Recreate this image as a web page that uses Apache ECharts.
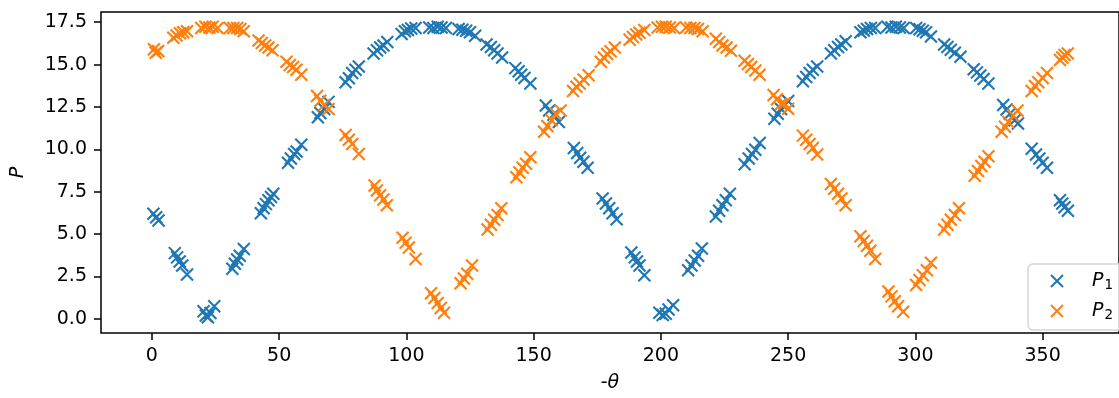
<!DOCTYPE html>
<html>
<head>
<meta charset="utf-8">
<script src="https://cdn.jsdelivr.net/npm/echarts@6/dist/echarts.min.js"></script>
<style>
  html, body { margin: 0; padding: 0; background: #fff; }
  #chart { width: 1119px; height: 398px; }
</style>
</head>
<body>
<div id="chart"></div>
<script>
// Measured polarised intensities P1 and P2 against the (negative) analyser angle
const p1Theta = [
  0.6, 1.7, 2.6,
  9.0, 9.9, 10.9, 11.9, 13.8,
  20.3, 21.2, 22.0, 23.0, 24.5,
  31.6, 32.6, 33.5, 34.5, 36.1,
  42.8, 43.9, 44.8, 45.8, 46.8, 47.7,
  53.5, 54.6, 55.9, 56.9, 58.7,
  65.2, 66.2, 67.7, 69.4,
  76.1, 77.4, 78.7, 80.0, 81.3,
  87.1, 88.4, 89.7, 91.0, 92.5,
  98.1, 99.4, 100.6, 101.9, 103.6,
  109.0, 110.6, 112.3, 113.8, 115.5,
  120.5, 122.0, 123.5, 125.0, 127.0,
  131.5, 133.2, 134.5, 135.8, 137.6,
  142.8, 144.1, 145.1, 146.4, 148.7,
  154.8, 156.1, 157.8, 159.9,
  165.8, 167.1, 168.3, 169.6, 171.2,
  177.1, 178.4, 179.7, 181.0, 182.6,
  188.4, 189.7, 190.6, 191.6, 193.5,
  199.4, 200.7, 201.9, 203.0, 204.8,
  210.7, 212.0, 213.3, 214.6, 216.1,
  221.6, 222.9, 224.2, 225.5, 227.1,
  232.9, 234.5, 235.8, 237.1, 238.8,
  244.6, 245.9, 247.2, 248.5, 250.0,
  255.8, 257.1, 258.4, 259.7, 261.4,
  266.8, 268.1, 269.6, 270.9, 272.6,
  278.4, 279.7, 281.0, 282.5, 284.2,
  289.0, 290.6, 292.3, 293.9, 295.4,
  300.3, 301.6, 302.9, 304.2, 306.1,
  311.3, 312.6, 313.9, 315.5, 317.7,
  322.9, 324.2, 325.5, 326.8, 328.7,
  334.5, 335.8, 337.1, 339.0, 340.3,
  345.7, 347.4, 348.7, 350.0, 351.7,
  356.8, 357.7, 358.6, 359.9
];
const p1Values = [
  6.2, 6.0, 5.8,
  3.88, 3.63, 3.38, 3.15, 2.62,
  0.45, 0.2, 0.1, 0.35, 0.75,
  2.96, 3.25, 3.5, 3.73, 4.12,
  6.23, 6.52, 6.77, 7.0, 7.19, 7.38,
  9.21, 9.46, 9.73, 9.88, 10.27,
  11.9, 12.15, 12.38, 12.8,
  13.96, 14.2, 14.5, 14.7, 14.88,
  15.65, 15.85, 16.0, 16.13, 16.33,
  16.8, 16.96, 17.04, 17.13, 17.15,
  17.19, 17.15, 17.23, 17.19, 17.15,
  17.1, 17.05, 17.0, 16.9, 16.7,
  16.19, 16.04, 15.85, 15.65, 15.42,
  14.79, 14.6, 14.4, 14.21, 13.88,
  12.58, 12.29, 12.04, 11.62,
  10.08, 9.79, 9.5, 9.27, 8.92,
  7.1, 6.81, 6.52, 6.23, 5.88,
  3.92, 3.63, 3.38, 3.15, 2.58,
  0.37, 0.23, 0.31, 0.56, 0.81,
  2.87, 3.15, 3.44, 3.73, 4.15,
  6.04, 6.38, 6.71, 7.0, 7.38,
  9.12, 9.46, 9.73, 9.98, 10.37,
  11.81, 12.1, 12.38, 12.6, 12.85,
  14.02, 14.27, 14.5, 14.69, 14.88,
  15.65, 15.85, 16.04, 16.19, 16.38,
  16.9, 17.0, 17.1, 17.15, 17.15,
  17.23, 17.19, 17.23, 17.19, 17.15,
  17.15, 17.08, 17.0, 16.9, 16.65,
  16.19, 16.04, 15.88, 15.69, 15.46,
  14.73, 14.54, 14.35, 14.15, 13.88,
  12.62, 12.35, 12.1, 11.71, 11.52,
  10.04, 9.69, 9.46, 9.21, 8.92,
  7.0, 6.81, 6.58, 6.38
];
const p2Theta = [
  0.8, 1.5, 2.5,
  8.4, 9.7, 11.0, 12.3, 13.8,
  19.4, 21.0, 22.6, 23.9, 25.8,
  30.6, 32.0, 33.5, 34.8, 36.1,
  41.9, 43.2, 44.5, 45.8, 47.4,
  52.9, 54.2, 55.5, 56.8, 58.7,
  64.9, 66.2, 67.7, 69.4,
  76.1, 77.4, 78.7, 81.3,
  87.5, 88.4, 89.7, 91.0, 92.3,
  98.5, 99.7, 101.0, 103.6,
  109.7, 111.0, 112.3, 113.5, 114.8,
  121.3, 122.6, 123.9, 125.8,
  131.9, 133.2, 134.5, 135.8, 137.3,
  143.2, 144.4, 145.7, 147.0, 148.7,
  154.1, 155.4, 157.0, 158.7, 160.6,
  165.5, 166.8, 168.1, 169.6, 171.6,
  176.4, 177.6, 178.9, 180.2, 181.9,
  187.7, 189.0, 190.3, 191.6, 193.5,
  198.7, 200.4, 201.9, 203.5, 205.2,
  209.9, 211.6, 213.2, 214.6, 216.4,
  221.6, 222.9, 224.2, 225.8, 227.5,
  232.9, 234.2, 235.5, 237.1, 238.8,
  244.3, 245.6, 247.2, 248.5, 250.0,
  255.8, 257.1, 258.4, 259.7, 261.4,
  266.8, 268.1, 269.6, 270.9, 272.6,
  278.4, 279.7, 281.0, 282.3, 284.2,
  289.4, 290.6, 291.9, 293.2, 295.2,
  300.3, 301.6, 302.9, 304.5, 306.1,
  311.3, 312.6, 313.9, 315.5, 317.1,
  323.3, 324.6, 325.9, 327.2, 328.7,
  333.9, 335.2, 336.5, 338.4, 340.1,
  345.7, 347.0, 348.3, 350.0, 351.7,
  356.8, 357.7, 358.6, 359.9
];
const p2Values = [
  15.9, 15.7, 15.8,
  16.58, 16.71, 16.85, 16.9, 16.96,
  17.15, 17.23, 17.19, 17.23, 17.15,
  17.15, 17.15, 17.15, 17.1, 16.96,
  16.42, 16.27, 16.13, 16.0, 15.85,
  15.17, 14.98, 14.85, 14.69, 14.4,
  13.15, 12.87, 12.62, 12.38,
  10.85, 10.56, 10.31, 9.73,
  7.87, 7.58, 7.29, 7.04, 6.71,
  4.79, 4.5, 4.21, 3.54,
  1.52, 1.23, 0.94, 0.65, 0.37,
  2.1, 2.38, 2.67, 3.15,
  5.27, 5.56, 5.85, 6.13, 6.52,
  8.35, 8.63, 8.92, 9.15, 9.54,
  11.04, 11.38, 11.71, 12.1, 12.29,
  13.44, 13.69, 13.88, 14.12, 14.37,
  15.17, 15.42, 15.62, 15.79, 16.0,
  16.46, 16.62, 16.77, 16.88, 17.04,
  17.19, 17.23, 17.23, 17.19, 17.15,
  17.19, 17.15, 17.15, 17.1, 16.96,
  16.52, 16.33, 16.13, 16.0, 15.81,
  15.23, 15.04, 14.85, 14.65, 14.4,
  13.2, 12.96, 12.67, 12.7, 12.4,
  10.81, 10.56, 10.31, 10.08, 9.69,
  7.96, 7.67, 7.38, 7.1, 6.71,
  4.88, 4.6, 4.31, 4.02, 3.54,
  1.62, 1.33, 1.04, 0.75, 0.42,
  2.0, 2.29, 2.58, 2.87, 3.31,
  5.27, 5.56, 5.85, 6.13, 6.52,
  8.44, 8.73, 9.02, 9.27, 9.6,
  11.04, 11.33, 11.62, 12.0, 12.29,
  13.44, 13.73, 13.96, 14.21, 14.5,
  15.27, 15.42, 15.56, 15.65
];

const xTicks = [0, 50, 100, 150, 200, 250, 300, 350];
const yTicks = [0, 2.5, 5, 7.5, 10, 12.5, 15, 17.5];

const BLUE = '#1f77b4';
const ORANGE = '#ff7f0e';
const FONT = 'DejaVu Sans';
const FS = 19;
const CROSS = 'path://M0,0L10,10M10,0L0,10';

function pairs(xs, ys) {
  return xs.map((x, i) => [x, ys[i]]);
}

function scatter(name, color, data) {
  return {
    name: name,
    type: 'scatter',
    data: data,
    symbol: CROSS,
    symbolSize: 12,
    itemStyle: { color: color, borderColor: color, borderWidth: 2.1, opacity: 1 },
    emphasis: { disabled: true }
  };
}

const tickStyle = { color: '#000', width: 1.5 };

const chart = echarts.init(document.getElementById('chart'), null, { renderer: 'canvas' });

chart.setOption({
  animation: false,
  backgroundColor: '#ffffff',
  textStyle: { fontFamily: FONT },
  grid: {
    left: 101, top: 12, bottom: 58, right: -14,
    show: true, borderColor: '#000', borderWidth: 1.5, backgroundColor: 'transparent'
  },
  legend: {
    left: 1028, top: 264,
    orient: 'vertical',
    padding: [6, 24, 8, 22],
    itemWidth: 12, itemHeight: 12, itemGap: 8,
    backgroundColor: 'rgba(255,255,255,0.8)',
    borderColor: '#d6d6d6', borderWidth: 1.5, borderRadius: 5,
    data: ['P1', 'P2'],
    formatter: function (n) {
      return '{i|P}{s|' + n.slice(1) + '}';
    },
    textStyle: {
      color: '#000',
      rich: {
        i: { fontFamily: FONT, fontStyle: 'italic', fontSize: FS, padding: [0, 0, 0, 24], lineHeight: 22 },
        s: { fontFamily: FONT, fontSize: 13.5, verticalAlign: 'bottom', padding: [8, 0, 0, 1], lineHeight: 22 }
      }
    }
  },
  xAxis: {
    type: 'value',
    min: -20, max: 380,
    name: '{n|-}{t|θ}',
    nameLocation: 'middle',
    nameGap: 41,
    nameTextStyle: {
      rich: {
        n: { fontFamily: FONT, fontSize: FS, color: '#000' },
        t: { fontFamily: FONT, fontSize: FS, fontStyle: 'italic', color: '#000' }
      }
    },
    axisLine: { show: false, onZero: false },
    axisTick: { show: true, inside: false, length: 7, customValues: xTicks, lineStyle: tickStyle },
    axisLabel: { customValues: xTicks, color: '#000', fontSize: FS, fontFamily: FONT, margin: 14 },
    splitLine: { show: false }
  },
  yAxis: {
    type: 'value',
    min: -0.83, max: 18.1,
    name: 'P',
    nameLocation: 'middle',
    nameGap: 73,
    nameRotate: 90,
    nameTextStyle: { fontFamily: FONT, fontSize: FS, fontStyle: 'italic', color: '#000' },
    axisLine: { show: false, onZero: false },
    axisTick: { show: true, inside: false, length: 7, customValues: yTicks, lineStyle: tickStyle },
    axisLabel: {
      customValues: yTicks, color: '#000', fontSize: FS, fontFamily: FONT, margin: 14,
      formatter: function (v) { return v.toFixed(1); }
    },
    splitLine: { show: false }
  },
  series: [
    scatter('P1', BLUE, pairs(p1Theta, p1Values)),
    scatter('P2', ORANGE, pairs(p2Theta, p2Values))
  ]
});
</script>
</body>
</html>
